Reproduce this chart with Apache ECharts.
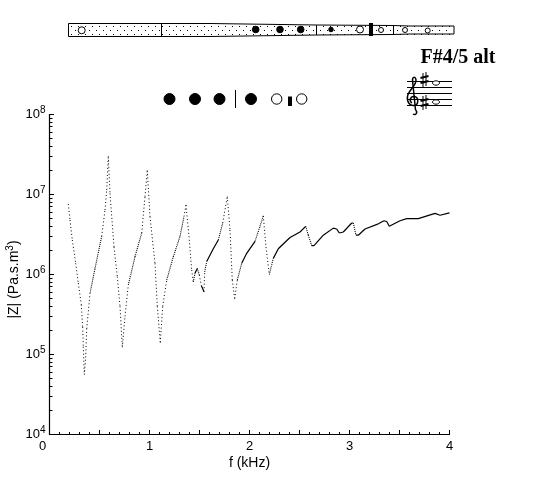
<!DOCTYPE html>
<html>
<head>
<meta charset="utf-8">
<style>html,body{margin:0;padding:0;background:#fff}#c{width:560px;height:480px}</style>
<script src="https://cdn.jsdelivr.net/npm/echarts@6/dist/echarts.min.js"></script>
</head>
<body>
<div id="c"></div>
<script>
const titleText = 'F#4/5 alt';
const xName = 'f (kHz)';
const xTicks = [0, 1, 2, 3, 4];
const yTicks = [1e4, 1e5, 1e6, 1e7, 1e8];
const freqKHz = [
  .188,.205,.228,.262,.288,.318,.332,.338,.348,.362,.372,.405,.455,.522,.555,.572,.588,.605,.645,.678,.705,.728,
  .755,.788,.855,.922,.955,.978,1.005,1.055,1.078,1.108,1.132,1.172,1.238,1.305,1.345,1.365,1.395,1.422,1.438,
  1.455,1.478,1.498,1.518,1.545,1.552,1.572,1.638,1.688,1.732,1.778,1.805,1.828,1.852,1.878,1.922,1.972,2.055,
  2.105,2.138,2.165,2.198,2.238,2.288,2.405,2.505,2.562,2.588,2.622,2.645,2.738,2.838,2.872,2.898,2.938,3.022,
  3.038,3.065,3.088,3.155,3.288,3.345,3.372,3.398,3.505,3.572,3.688,3.855,3.905,4.0
];
const impedance = [
  7.6e6,4.8e6,2.7e6,1.38e6,7.8e5,4.2e5,2.2e5,1.25e5,5.6e4,9.2e4,2.1e5,5.8e5,1.19e6,3.0e6,6.4e6,1.14e7,3.0e7,1.03e7,2.2e6,9.4e5,4.0e5,1.23e5,
  3.0e5,7.4e5,1.67e6,3.3e6,9.4e6,2.0e7,5.3e6,1.38e6,4.0e5,1.41e5,4.0e5,8.5e5,1.67e6,3.0e6,5.3e6,7.4e6,3.0e6,1.14e6,8.1e5,
  1.04e6,1.19e6,9.9e5,7.3e5,6.1e5,1.08e6,1.45e6,2.1e6,2.7e6,4.4e6,9.4e6,3.6e6,8.5e5,5.0e5,8.5e5,1.38e6,1.84e6,2.6e6,
  4.0e6,5.4e6,2.2e6,1.0e6,1.59e6,2.1e6,2.9e6,3.4e6,4.0e6,3.1e6,2.3e6,2.3e6,3.1e6,3.8e6,3.7e6,3.3e6,3.4e6,4.4e6,
  4.4e6,3.1e6,3.1e6,3.7e6,4.3e6,4.7e6,4.6e6,4.0e6,4.7e6,5.0e6,5.0e6,5.8e6,5.5e6,5.9e6
];

// Steep stretches of the curve read as sparse dots, rising ones as dense dots, flat ones as a solid trace.
const solid = [], dense = [], sparse = [];
for (let i = 0; i + 1 < freqKHz.length; i++) {
  const slope = Math.abs(Math.log10(impedance[i + 1] / impedance[i]) / (freqKHz[i + 1] - freqKHz[i]));
  const target = slope > 6.5 ? sparse : slope > 3.5 ? dense : solid;
  target.push([freqKHz[i], impedance[i]], [freqKHz[i + 1], impedance[i + 1]], [freqKHz[i + 1], null]);
}

// Tick marks: [axis, value, length]
const tickMarks = [];
for (let i = 0; i <= 40; i++) tickMarks.push([0, i / 10, i % 5 === 0 ? 4.5 : 2.5]);
for (let d = 4; d < 8; d++) for (let k = 1; k <= 9; k++) tickMarks.push([1, k * Math.pow(10, d), k === 1 ? 4.5 : 3]);
tickMarks.push([1, 1e8, 4.5]);

// Instrument drawing
const g = [];
const blk = '#000';
const circle = (cx, cy, r, fill) => g.push({type:'circle', shape:{cx, cy, r}, style:{fill: fill ? blk : '#fff', stroke: blk, lineWidth:1}, z:10});
const rect = (x, y, width, height) => g.push({type:'rect', shape:{x, y, width, height}, style:{fill: blk}, z:10});
const line = (x1, y1, x2, y2, w) => g.push({type:'line', shape:{x1, y1, x2, y2}, style:{stroke: blk, lineWidth: w || 1}, z:10});
const curve = (x1, y1, cpx1, cpy1, cpx2, cpy2, x2, y2) => g.push({type:'bezierCurve', shape:{x1, y1, cpx1, cpy1, cpx2, cpy2, x2, y2}, style:{fill:'none', stroke:blk, lineWidth:1.5}, z:11});
g.push({type:'polygon', shape:{points:[[68.5,23.5],[210,23.5],[316.5,25],[393,25.5],[410,26],[454,26],[454,34],[410,34],[393,34.5],[316.5,35],[210,36.5],[68.5,36.5]]},
  style:{fill:'#fff', stroke:blk, lineWidth:1}, z:9});
[[26,0],[30,3.5],[34,0]].forEach(([y, off]) => {
  for (let x = 71 + off; x < 452; x += 7) rect(Math.round(x), y, 1, 1);
});
line(161.5,23.5,161.5,36.5); line(316.5,25,316.5,35); line(393.5,25.5,393.5,34.5);
circle(81.7,30.3,3.5,false);
circle(255.7,29.5,3.3,true); circle(280,29.5,3.3,true); circle(300.7,29.5,3.3,true);
circle(331,29.5,2.3,true);
circle(360,29.5,3.5,false);
rect(369,23,4,13);
circle(381,30,2.5,false); circle(405,30,2.5,false); circle(427.7,30.5,2.5,false);
// fingering row
circle(169.5,99,5.5,true); circle(195,99,5.5,true); circle(219.5,99,5.5,true);
line(235.5,90,235.5,108);
circle(251,99,5.5,true);
circle(276.7,99,5.2,false);
rect(288,96.5,4,9.5);
circle(301.7,99,5.2,false);
// staff
[81,87,93,99,105].forEach(y => line(407,y+.5,452,y+.5));
// clef
curve(413,114,416,116,418,112,415.5,110);
line(415.5,110,412.5,80,1.5);
curve(412.5,80,412.5,77,415.5,76,416,80);
curve(416,80,416.5,85,409,90,407.5,96);
curve(407.5,96,406.5,102,410,106,414,105.5);
curve(414,105.5,419,105,419,97,414,96.5);
curve(414,96.5,410,96.5,409,101,412,103);
// sharps and notes
[[424.5,72,87],[424.5,95,110]].forEach(([x,a,b]) => {
  line(x-1.5,a+1,x-1.5,b); line(x+1.5,a,x+1.5,b-1);
  line(x-4,(a*2+b)/3+1,x+4,(a*2+b)/3-1,2); line(x-4,(a+b*2)/3+1,x+4,(a+b*2)/3-1,2);
});
[[436,83],[436,102]].forEach(([cx,cy]) => g.push({type:'ellipse', shape:{cx, cy, rx:3.5, ry:2.2}, style:{fill:'#fff', stroke:blk, lineWidth:1}, z:11}));
g.push({type:'text', x:420.5, y:48, style:{text:titleText, font:'bold 20px "Liberation Serif", serif', fill:blk, textAlign:'left', textVerticalAlign:'top'}, z:11});

const chart = echarts.init(document.getElementById('c'), null, {renderer:'canvas'});
const sans = '"Liberation Sans", Arial, sans-serif';
const sup = {
  b:{fontFamily:sans, fontSize:13, color:'#000'},
  s:{fontFamily:sans, fontSize:10, color:'#000', padding:[0,0,8,0]},
  n:{fontFamily:sans, fontSize:14, color:'#000'},
  z:{fontFamily:sans, fontSize:13, color:'#000', padding:[0,14,0,0]}
};
chart.setOption({
  animation:false,
  backgroundColor:'#fff',
  graphic:g,
  grid:{left:49.5, top:114.5, width:400, height:320, outerBoundsMode:'none'},
  xAxis:{
    type:'value', min:0, max:4, interval:1,
    name:xName, nameLocation:'middle', nameGap:22, nameMoveOverlap:false,
    nameTextStyle:{fontFamily:sans, fontSize:14, color:'#000'},
    axisLine:{lineStyle:{color:'#000', width:1.2}},
    axisTick:{show:false}, minorTick:{show:false}, splitLine:{show:false},
    axisLabel:{fontFamily:sans, fontSize:13, color:'#000', margin:5, rich:sup,
      formatter:v => v === 0 ? '{z|0}' : String(v)}
  },
  yAxis:{
    type:'log', logBase:10, min:yTicks[0], max:yTicks[yTicks.length-1],
    name:'{n||Z| (Pa.s.m}{s|3}{n|)}', nameLocation:'middle', nameGap:26, nameRotate:90, nameMoveOverlap:false,
    nameTextStyle:{rich:sup, padding:[0,10,0,0]},
    axisLine:{lineStyle:{color:'#000', width:1.2}},
    axisTick:{show:false}, minorTick:{show:false}, splitLine:{show:false},
    axisLabel:{margin:4, rich:sup, formatter:v => '{b|10}{s|' + Math.round(Math.log10(v)) + '}'}
  },
  series:[
    {type:'line', data:solid, showSymbol:false, connectNulls:false, clip:false, lineStyle:{color:'#000', width:1.2}},
    {type:'line', data:dense, showSymbol:false, connectNulls:false, clip:false, lineStyle:{color:'#000', width:1.1, type:[1,1]}},
    {type:'line', data:sparse, showSymbol:false, connectNulls:false, clip:false, lineStyle:{color:'#000', width:1, type:[1,2.5]}},
    {type:'custom', silent:true, clip:false, coordinateSystem:'cartesian2d',
      data:tickMarks.map(t => [t[0] === 0 ? t[1] : 0, t[0] === 1 ? t[1] : yTicks[0], t[0], t[2]]),
      encode:{x:0, y:1},
      renderItem:(params, api) => {
        const p = api.coord([api.value(0), api.value(1)]);
        const len = api.value(3);
        const x = Math.round(p[0] - .5) + .5, y = Math.round(p[1] - .5) + .5;
        const shape = api.value(2) === 0 ? {x1:x, y1:y, x2:x, y2:y - len} : {x1:x, y1:y, x2:x + len, y2:y};
        return {type:'line', shape, style:{stroke:'#000', lineWidth:1}};
      }}
  ]
});
</script>
</body>
</html>
